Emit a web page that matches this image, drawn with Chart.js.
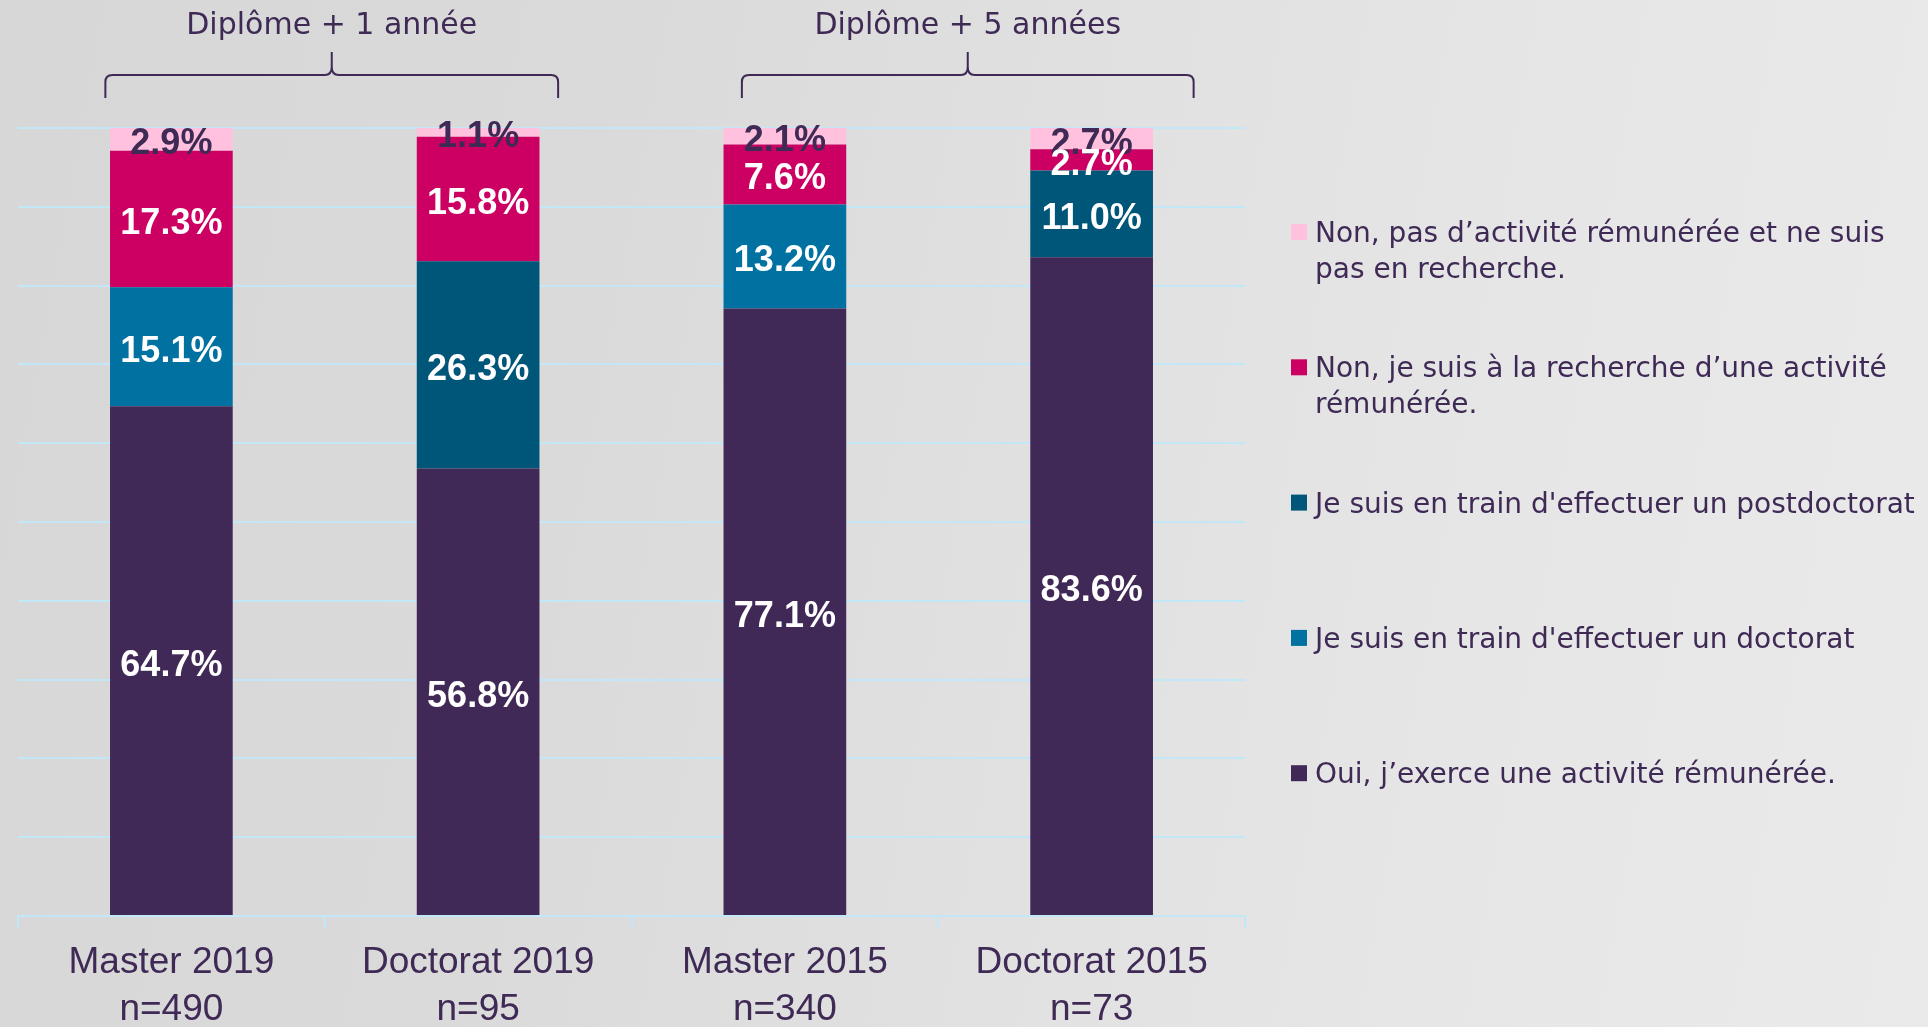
<!DOCTYPE html>
<html><head><meta charset="utf-8">
<script src="https://cdn.jsdelivr.net/npm/chart.js@4.4.0/dist/chart.umd.min.js"></script>
<style>
html,body{margin:0;padding:0;width:1928px;height:1027px;overflow:hidden;}
body{background:linear-gradient(100deg,#d7d7d7 0%,#dadada 30%,#e1e1e1 55%,#e6e6e6 75%,#eaeaea 100%);}
#c{position:absolute;left:0;top:0;}
</style></head><body>
<canvas id="c" width="1928" height="1027"></canvas>
<script>
const categories = ['Master 2019', 'Doctorat 2019', 'Master 2015', 'Doctorat 2015'];
const sampleSizes = ['n=490', 'n=95', 'n=340', 'n=73'];
const groupTitles = ['Diplôme + 1 année', 'Diplôme + 5 années'];
const seriesNames = [
  ['Oui, j\u2019exerce une activité rémunérée.'],
  ['Je suis en train d\'effectuer un doctorat'],
  ['Je suis en train d\'effectuer un postdoctorat'],
  ['Non, je suis à la recherche d\u2019une activité', 'rémunérée.'],
  ['Non, pas d\u2019activité rémunérée et ne suis', 'pas en recherche.']
];
const oui = [64.7, 56.8, 77.1, 83.6];
const doctorat = [15.1, 0, 13.2, 0];
const postdoc = [0, 26.3, 0, 11.0];
const recherche = [17.3, 15.8, 7.6, 2.7];
const inactif = [2.9, 1.1, 2.1, 2.7];
const yMin = 0, yMax = 100, yStep = 10;

const TEXT = '#3f2a56';
const GRID = '#c2e8f7';
const colors = ['#412957', '#0071a1', '#005678', '#cc0062', '#ffc1de'];
const labelColors = ['#ffffff', '#ffffff', '#ffffff', '#ffffff', TEXT];
const seriesValues = [oui, doctorat, postdoc, recherche, inactif];

const segLabels = {
  id: 'segLabels',
  afterDatasetsDraw(chart) {
    const ctx = chart.ctx;
    ctx.save();
    ctx.font = 'bold 36px "Liberation Sans", Arial, sans-serif';
    ctx.textAlign = 'center';
    ctx.textBaseline = 'middle';
    for (let d = chart.data.datasets.length - 1; d >= 0; d--) {
      const ds = chart.data.datasets[d];
      const meta = chart.getDatasetMeta(d);
      meta.data.forEach((el, i) => {
        const v = ds.data[i];
        if (!v) return;
        ctx.fillStyle = labelColors[d];
        ctx.fillText(v.toFixed(1) + '%', el.x, (el.y + el.base) / 2 + 5);
      });
    }
    ctx.restore();
  }
};

function drawBrace(ctx, L, R, yTop, yMid, yBot) {
  const M = (L + R) / 2;
  ctx.beginPath();
  ctx.moveTo(L, yBot);
  ctx.lineTo(L, yMid + 7);
  ctx.quadraticCurveTo(L, yMid, L + 7, yMid);
  ctx.lineTo(M - 7, yMid);
  ctx.quadraticCurveTo(M, yMid, M, yMid - 8);
  ctx.lineTo(M, yTop);
  ctx.moveTo(M, yMid - 8);
  ctx.quadraticCurveTo(M, yMid, M + 7, yMid);
  ctx.lineTo(R - 7, yMid);
  ctx.quadraticCurveTo(R, yMid, R, yMid + 7);
  ctx.lineTo(R, yBot);
  ctx.stroke();
}

const decor = {
  id: 'decor',
  afterDraw(chart) {
    const ctx = chart.ctx;
    const xs = chart.scales.x;
    ctx.save();
    const groups = [
      [xs.getPixelForValue(0) - 66, xs.getPixelForValue(1) + 80],
      [xs.getPixelForValue(2) - 43, xs.getPixelForValue(3) + 102]
    ];
    ctx.strokeStyle = TEXT;
    ctx.lineWidth = 2;
    ctx.fillStyle = TEXT;
    ctx.font = '30px "DejaVu Sans", sans-serif';
    ctx.textAlign = 'center';
    ctx.textBaseline = 'alphabetic';
    groups.forEach((g, i) => {
      drawBrace(ctx, g[0], g[1], 52, 75, 98);
      ctx.fillText(groupTitles[i], (g[0] + g[1]) / 2, 34);
    });
    const lx = 1291, tx = 1315;
    const firstY = 232, step = 135.3, lineH = 36;
    ctx.font = '28px "DejaVu Sans", sans-serif';
    ctx.textAlign = 'left';
    const order = [4, 3, 2, 1, 0];
    order.forEach((d, k) => {
      const cy = firstY + k * step;
      ctx.fillStyle = colors[d];
      ctx.fillRect(lx, cy - 8, 16, 16);
      ctx.fillStyle = TEXT;
      seriesNames[d].forEach((line, j) => {
        ctx.fillText(line, tx, cy + 10 + j * lineH);
      });
    });
    ctx.restore();
  }
};

const datasets = seriesValues.map((vals, d) => ({
  label: seriesNames[d].join(' '),
  data: vals,
  backgroundColor: colors[d],
  borderWidth: 0,
  categoryPercentage: 1,
  barPercentage: 0.4
}));

new Chart(document.getElementById('c'), {
  type: 'bar',
  data: {
    labels: categories.map((c, i) => [c, sampleSizes[i]]),
    datasets: datasets
  },
  options: {
    responsive: false,
    devicePixelRatio: 1,
    animation: false,
    layout: { padding: { left: 18, right: 683, top: 128, bottom: 0 } },
    plugins: { legend: { display: false }, tooltip: { enabled: false }, title: { display: false } },
    scales: {
      x: {
        stacked: true,
        offset: true,
        grid: { offset: true, drawOnChartArea: false, drawTicks: true, tickLength: 12, color: GRID, lineWidth: 2 },
        border: { display: true, color: GRID, width: 2 },
        ticks: {
          color: TEXT,
          font: { family: '"Liberation Sans", Arial, sans-serif', size: 37, lineHeight: 1.27 },
          padding: 11, maxRotation: 0, minRotation: 0, autoSkip: false
        },
        afterFit(s) { s.height = 111; }
      },
      y: {
        stacked: true,
        min: yMin, max: yMax,
        ticks: { display: false, stepSize: yStep },
        grid: { color: GRID, lineWidth: 2, drawTicks: false },
        border: { display: false }
      }
    }
  },
  plugins: [segLabels, decor]
});
</script>
</body></html>
